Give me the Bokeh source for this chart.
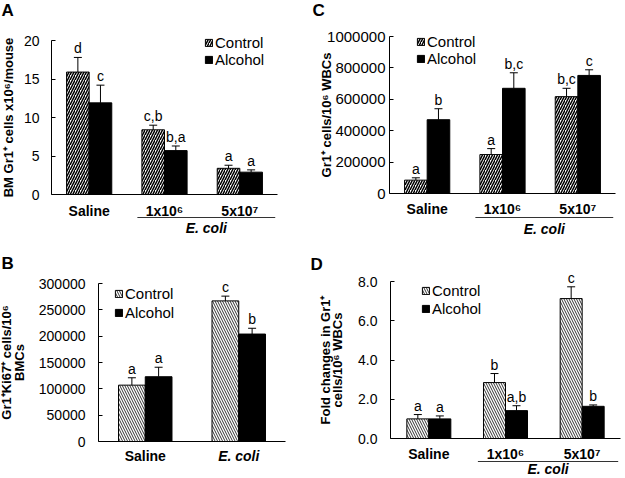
from bokeh.plotting import figure
from bokeh.models import (Range1d, FixedTicker, Whisker, ColumnDataSource, Legend,
                          LegendItem, Label, TeeHead, NumeralTickFormatter)
from bokeh.transform import dodge
from bokeh.layouts import column, row
from bokeh.embed import file_html
from bokeh.resources import INLINE
from bokeh.core.properties import value

FONT = "Liberation Sans"

# ---------------- data ----------------
a_groups = ["Saline", "1x10⁶", "5x10⁷"]
a_control = [15.9, 8.4, 3.4]
a_control_err = [1.9, 0.6, 0.4]
a_alcohol = [11.9, 5.7, 2.9]
a_alcohol_err = [2.3, 0.6, 0.3]
a_control_sig = ["d", "c,b", "a"]
a_alcohol_sig = ["c", "b,a", "a"]
a_yticks = [0, 5, 10, 15, 20]

c_groups = ["Saline", "1x10⁶", "5x10⁷"]
c_control = [85000, 248000, 617000]
c_control_err = [15000, 38000, 53000]
c_alcohol = [470000, 670000, 752000]
c_alcohol_err = [70000, 99000, 36000]
c_control_sig = ["a", "a", "b,c"]
c_alcohol_sig = ["b", "b,c", "c"]
c_yticks = [0, 200000, 400000, 600000, 800000, 1000000]

b_groups = ["Saline", "E. coli"]
b_control = [107000, 267000]
b_control_err = [14000, 9000]
b_alcohol = [123000, 204000]
b_alcohol_err = [18000, 11000]
b_control_sig = ["a", "c"]
b_alcohol_sig = ["a", "b"]
b_yticks = [0, 50000, 100000, 150000, 200000, 250000, 300000]

d_groups = ["Saline", "1x10⁶", "5x10⁷"]
d_control = [1.0, 2.85, 7.13]
d_control_err = [0.22, 0.46, 0.6]
d_alcohol = [1.0, 1.42, 1.64]
d_alcohol_err = [0.15, 0.25, 0.07]
d_control_sig = ["a", "b", "c"]
d_alcohol_sig = ["a", "a,b", "b"]
d_yticks = [0, 2, 4, 6, 8]

series_names = ["Control", "Alcohol"]
ecoli_label = "E. coli"
ecoli_doses = ["1x10⁶", "5x10⁷"]


def panel(letter, groups, ctl, ctl_err, alc, alc_err, ctl_sig, alc_sig, yticks,
          fmt, ylabel, W, H, frame_px, tick_font, tick_standoff, label_standoff,
          label_line_height, bar_w, hatch, hatch_color, hatch_weight, legend_px,
          legend_spacing, letter_px, below_offsets):
    # frame_px: pixel positions (in the figure) of y-axis, x-axis end, y=0 and top tick
    ax_px, right_px, y0_px, top_px = frame_px
    n = len(groups)
    ymax = yticks[-1]
    ux = (right_px - ax_px) / n
    uy = (y0_px - top_px) / ymax
    centers = [i + 0.5 for i in range(n)]
    src = ColumnDataSource(dict(
        x=centers, c=ctl, cu=[v + e for v, e in zip(ctl, ctl_err)],
        a=alc, au=[v + e for v, e in zip(alc, alc_err)],
        cs=ctl_sig, as_=alc_sig))
    p = figure(x_range=Range1d(-ax_px / ux, (W - ax_px) / ux),
               y_range=Range1d(-(H - y0_px) / uy, ymax + top_px / uy),
               width=W, height=H, output_backend="svg", toolbar_location=None,
               min_border_left=0, min_border_right=0, min_border_top=0,
               min_border_bottom=0)
    p.outline_line_color = None
    p.xgrid.visible = False
    p.ygrid.visible = False

    # y axis (floating at x = 0)
    ya = p.yaxis[0]
    ya.fixed_location = 0
    ya.bounds = (0, ymax)
    ya.ticker = FixedTicker(ticks=yticks)
    ya.formatter = NumeralTickFormatter(format=fmt)
    ya.major_tick_in = 4
    ya.major_tick_out = 0
    ya.minor_tick_line_color = None
    ya.axis_line_color = "black"
    ya.major_tick_line_color = "black"
    ya.major_label_text_font = FONT
    ya.major_label_text_font_size = tick_font
    ya.major_label_text_color = "black"
    ya.major_label_standoff = tick_standoff
    ya.axis_label = ylabel
    ya.axis_label_text_font = FONT
    ya.axis_label_text_font_style = "bold"
    ya.axis_label_text_font_size = "13px"
    ya.axis_label_text_line_height = label_line_height
    ya.axis_label_text_color = "black"
    ya.axis_label_standoff = label_standoff

    # x axis (floating at y = 0): line only; group names drawn as labels
    xa = p.xaxis[0]
    xa.fixed_location = 0
    xa.bounds = (0, n)
    xa.ticker = FixedTicker(ticks=[])
    xa.major_tick_line_color = None
    xa.minor_tick_line_color = None
    xa.major_label_text_font_size = "0px"
    xa.axis_line_color = "black"

    off_lab, off_line, off_ecoli = below_offsets
    for c, g in zip(centers, groups):
        style = "bold italic" if g == ecoli_label else "bold"
        p.add_layout(Label(x=c, y=0, x_units="data", y_units="data", y_offset=-off_lab,
                           text=g, text_font=FONT, text_font_style=style,
                           text_font_size="14px", text_align="center",
                           text_baseline="middle", text_color="black"))

    if ecoli_label not in groups:
        idx = [groups.index(g) for g in ecoli_doses]
        lo, hi = min(idx) + 0.14, max(idx) + 0.97
        usrc = ColumnDataSource(dict(lo=[lo], hi=[hi], b=[(H - y0_px) - off_line]))
        p.add_layout(Whisker(base="b", lower="lo", upper="hi", source=usrc,
                             dimension="width", base_units="screen",
                             lower_head=None, upper_head=None,
                             line_color="#333333", line_width=1, level="annotation"))
        p.add_layout(Label(x=(lo + hi) / 2, y=0, x_units="data", y_units="data",
                           y_offset=-off_ecoli, text=ecoli_label, text_font=FONT,
                           text_font_style="bold italic", text_font_size="14px",
                           text_align="center", text_baseline="middle",
                           text_color="black"))

    half = bar_w / 2
    xc = dodge("x", -half)
    xalc = dodge("x", half)
    rc = p.vbar(x=xc, top="c", width=bar_w, source=src, fill_color="white",
                line_color="black", line_width=1, hatch_pattern=hatch,
                hatch_scale=5, hatch_color=hatch_color, hatch_weight=hatch_weight)
    ra = p.vbar(x=xalc, top="a", width=bar_w, source=src, fill_color="black",
                line_color="black", line_width=1)

    for base, lo_, up_ in [(xc, "c", "cu"), (xalc, "a", "au")]:
        p.add_layout(Whisker(base=base, lower=lo_, upper=up_, source=src,
                             lower_head=None,
                             upper_head=TeeHead(size=8, line_color="black", line_width=1),
                             line_color="black", line_width=1, level="annotation"))

    for xx, col, yy in [(xc, "cs", "cu"), (xalc, "as_", "au")]:
        p.text(x=xx, y=yy, text=col, source=src, text_align="center",
               text_baseline="bottom", y_offset=-1, text_font=value(FONT),
               text_font_size="14px", text_color="black")

    lx, lbottom = legend_px
    leg = Legend(items=[LegendItem(label=series_names[0], renderers=[rc]),
                        LegendItem(label=series_names[1], renderers=[ra])],
                 location=(lx, H - lbottom), padding=0, margin=0,
                 spacing=legend_spacing, glyph_width=9, glyph_height=9,
                 label_standoff=2, label_text_font=FONT, label_text_font_size="15px",
                 label_text_line_height=1.0,
                 label_text_color="black", label_height=14,
                 border_line_color=None, background_fill_alpha=0)
    p.add_layout(leg)

    p.add_layout(Label(x=letter_px[0], y=H - letter_px[1], x_units="screen",
                       y_units="screen", text=letter, text_font=FONT,
                       text_font_style="bold", text_font_size="17px",
                       text_baseline="top", text_align="left", text_color="black"))
    return p


pA = panel("A", a_groups, a_control, a_control_err, a_alcohol, a_alcohol_err,
           a_control_sig, a_alcohol_sig, a_yticks, "0",
           "BM Gr1⁺ cells x10⁶/mouse", 310, 240, (51, 277, 194, 40),
           "14px", 12, 5, 1.2, 0.3, "/", "black", 1.5, (204, 68), 0,
           (1, 0), (16, 23, 33))

pC = panel("C", c_groups, c_control, c_control_err, c_alcohol, c_alcohol_err,
           c_control_sig, c_alcohol_sig, c_yticks, "0",
           "Gr1⁺ cells/10⁶ WBCs", 312, 240, (79, 305, 193, 36),
           "15px", 4, -10, 1.2, 0.3, "/", "black", 1.5, (106, 67), 0,
           (2, 0), (15, 24, 35))

pB = panel("B", b_groups, b_control, b_control_err, b_alcohol, b_alcohol_err,
           b_control_sig, b_alcohol_sig, b_yticks, "0",
           "Gr1⁺Ki67⁺ cells/10⁶\nBMCs", 310, 237, (98, 285, 201, 43),
           "14px", 13, 9, 0.85, 0.286, "\\", "#333333", 1.0, (114, 81), 2,
           (1, 13), (14, 0, 0))

pD = panel("D", d_groups, d_control, d_control_err, d_alcohol, d_alcohol_err,
           d_control_sig, d_alcohol_sig, d_yticks, "0.0",
           "Fold changes in Gr1⁺\ncells/10⁶ WBCs", 312, 237, (80, 310, 198, 41),
           "14px", 13, 10, 0.8, 0.287, "\\", "#333333", 1.0, (111, 77), 1,
           (0, 14), (15, 23, 30))

layout = column(row(pA, pC), row(pB, pD))

open("out.html", "w").write(file_html(layout, INLINE))
